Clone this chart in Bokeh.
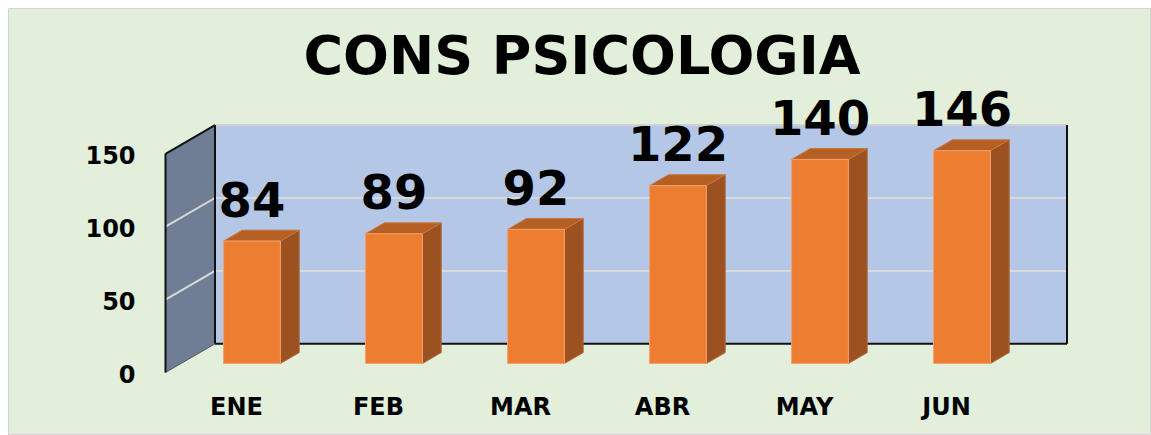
from bokeh.plotting import figure
from bokeh.models import Range1d, Label
from bokeh.core.properties import value
from bokeh.embed import file_html
from bokeh.resources import INLINE

# ---- data ----
categories = ["ENE", "FEB", "MAR", "ABR", "MAY", "JUN"]
values = [84, 89, 92, 122, 140, 146]
y_ticks = [0, 50, 100, 150]
y_tick_labels = ["0", "50", "100", "150"]
title_text = "CONS PSICOLOGIA"

# ---- style / 3D projection constants ----
W, H = 1151, 435
DX, DY = 0.3486, 19.68      # wall depth offset (data units)
BF = 0.313                  # depth fraction of bar front face
BD = 0.38                   # depth fraction of bar thickness
BW = 0.40                   # bar width (category units)
YMAX = 150
FONT = value("DejaVu Sans")

n = len(categories)

p = figure(width=W, height=H,
           x_range=Range1d(-1.10563, 6.94366), y_range=Range1d(-43.21, 249.66),
           output_backend="svg", toolbar_location=None,
           x_axis_location=None, y_axis_location=None,
           min_border=0, min_border_left=8, min_border_top=8)
p.grid.visible = False
p.background_fill_color = "#E2EFDA"
p.border_fill_color = "#FFFFFF"
p.outline_line_color = "#D4D4D4"
p.outline_line_width = 1

# side wall
p.patch(x=[0, DX, DX, 0], y=[0, DY, YMAX + DY, YMAX],
        fill_color="#6F7E95", line_color=None)
# back wall
p.quad(left=[DX], right=[n + DX], bottom=[DY], top=[YMAX + DY],
       fill_color="#B4C7E7", line_color=None)

# gridlines
grid_vals = [t for t in y_ticks if 0 < t < YMAX]
p.segment(x0=[DX] * len(grid_vals), y0=[g + DY for g in grid_vals],
          x1=[n + DX] * len(grid_vals), y1=[g + DY for g in grid_vals],
          line_color="#D9D9D9", line_width=2)
p.segment(x0=[0] * len(grid_vals), y0=grid_vals,
          x1=[DX] * len(grid_vals), y1=[g + DY for g in grid_vals],
          line_color="#D9D9D9", line_width=2)
# top edge of back wall
p.segment(x0=[DX], y0=[YMAX + DY], x1=[n + DX], y1=[YMAX + DY],
          line_color="#D0D0D0", line_width=2)

# dark edges
p.multi_line(xs=[[0, 0], [0, DX], [DX, DX], [DX, n + DX], [n + DX, n + DX]],
             ys=[[0, YMAX], [YMAX, YMAX + DY], [DY, YMAX + DY], [DY, DY], [DY, YMAX + DY]],
             line_color="#111111", line_width=2)
p.segment(x0=[0], y0=[0], x1=[DX], y1=[DY], line_color="#555555", line_width=1)

# bars
xc = [i + 0.5 + BF * DX for i in range(n)]
lefts = [x - BW / 2 for x in xc]
rights = [x + BW / 2 for x in xc]
b0 = BF * DY
tops = [v + b0 for v in values]
ddx, ddy = BD * DX, BD * DY

p.patches(xs=[[r, r + ddx, r + ddx, r] for r in rights],
          ys=[[b0, b0 + ddy, t + ddy, t] for t in tops],
          fill_color="#9C5120", line_color="#B0683A", line_width=1)
p.patches(xs=[[l, r, r + ddx, l + ddx] for l, r in zip(lefts, rights)],
          ys=[[t, t, t + ddy, t + ddy] for t in tops],
          fill_color="#B65F23", line_color="#C87840", line_width=1)
p.quad(left=lefts, right=rights, bottom=[b0] * n, top=tops,
       fill_color="#ED7D31", line_color="#F2A070", line_width=1)

# value labels
p.text(x=xc, y=[t + 28.76 for t in tops], text=[str(v) for v in values],
       text_align="center", text_baseline="alphabetic",
       text_font=FONT, text_font_style="bold", text_font_size="48px",
       text_color="#000000")

# y tick labels
p.text(x=[-0.211] * len(y_ticks), y=[t - 0.9 for t in y_ticks], text=y_tick_labels,
       text_align="right", text_baseline="alphabetic",
       text_font=FONT, text_font_style="bold", text_font_size="24px",
       text_color="#000000")

# category labels
p.text(x=[i + 0.5 for i in range(n)], y=[-23.65] * n, text=categories,
       text_align="center", text_baseline="alphabetic",
       text_font=FONT, text_font_style="bold", text_font_size="24px",
       text_color="#000000")

# title
p.add_layout(Label(x=2.933, y=217.5, text=title_text, text_align="center",
                   text_baseline="alphabetic", text_font="DejaVu Sans",
                   text_font_style="bold", text_font_size="54px",
                   text_color="#000000"))

open("out.html", "w").write(file_html(p, INLINE))
